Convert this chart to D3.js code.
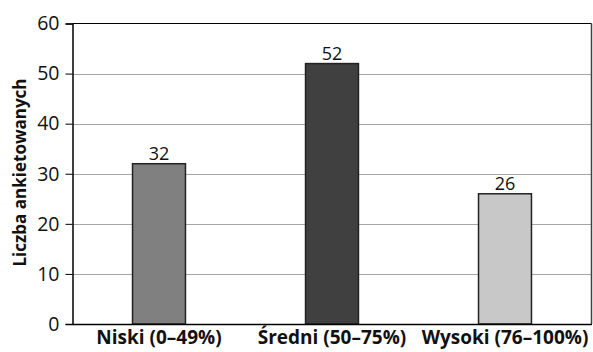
<!DOCTYPE html>
<html><head><meta charset="utf-8">
<script src="https://cdn.jsdelivr.net/npm/d3@7"></script>
<style>body{margin:0;background:#fff}svg{display:block}text{font-family:"Open Sans",sans-serif}</style>
</head><body><svg id="c" width="593" height="352"></svg>
<script>
const categories = ["Niski (0–49%)", "Średni (50–75%)", "Wysoki (76–100%)"];
const values = [32, 52, 26];
const colors = ["#808080", "#404040", "#c8c8c8"];
const yTicks = [0, 10, 20, 30, 40, 50, 60];

const svg = d3.select("#c");
const m = {l: 72.5, r: 591.5, t: 23.5, b: 324};
const x = d3.scaleBand().domain(categories).range([m.l, m.r]).paddingInner(0.694).paddingOuter(0.347);
const y = d3.scaleLinear().domain([0, 60]).range([m.b, m.t]);

// gridlines
svg.append("g").selectAll("line").data(yTicks.filter(d => d > 0 && d < 60)).join("line")
  .attr("x1", m.l).attr("x2", m.r).attr("y1", d => Math.round(y(d)) + 0.5).attr("y2", d => Math.round(y(d)) + 0.5)
  .attr("stroke", "#a6a6a6").attr("stroke-width", 1);
// top & right border
svg.append("line").attr("x1", m.l).attr("x2", m.r).attr("y1", m.t).attr("y2", m.t).attr("stroke", "#000");
svg.append("line").attr("x1", m.r).attr("x2", m.r).attr("y1", m.t).attr("y2", m.b).attr("stroke", "#404040").attr("stroke-width", 1.5);

// bars
svg.append("g").selectAll("rect").data(values).join("rect")
  .attr("x", (d, i) => x(categories[i])).attr("width", x.bandwidth())
  .attr("y", d => y(d)).attr("height", d => y(0) - y(d))
  .attr("fill", (d, i) => colors[i]).attr("stroke", "#222").attr("stroke-width", 1.5);

// value labels
svg.append("g").selectAll("text").data(values).join("text")
  .attr("x", (d, i) => x(categories[i]) + x.bandwidth() / 2).attr("y", d => y(d) - 4)
  .attr("text-anchor", "middle").attr("font-size", 18).attr("fill", "#111").text(d => d);

// y axis
const ya = svg.append("g").attr("transform", `translate(${m.l},0)`)
  .call(d3.axisLeft(y).tickValues(yTicks).tickSize(7).tickPadding(6).tickFormat(d3.format("d")));
ya.select(".domain").attr("stroke", "#000").attr("stroke-width", 1.5);
ya.selectAll(".tick line").attr("stroke", "#000");
ya.selectAll(".tick text").attr("font-size", 19.5).attr("fill", "#111").attr("font-family", "Open Sans, sans-serif");

// x axis
const xa = svg.append("g").attr("transform", `translate(0,${m.b})`)
  .call(d3.axisBottom(x).tickSize(0).tickPadding(7));
xa.select(".domain").attr("stroke", "#000").attr("stroke-width", 1.5);
xa.selectAll(".tick text").attr("font-size", 19).attr("font-weight", "bold").attr("fill", "#111").attr("font-family", "Open Sans, sans-serif");

// y title
svg.append("text").attr("transform", "translate(26,172.5) rotate(-90)")
  .attr("text-anchor", "middle").attr("font-size", 17).attr("font-weight", "bold").attr("fill", "#111")
  .text("Liczba ankietowanych");
</script></body></html>
